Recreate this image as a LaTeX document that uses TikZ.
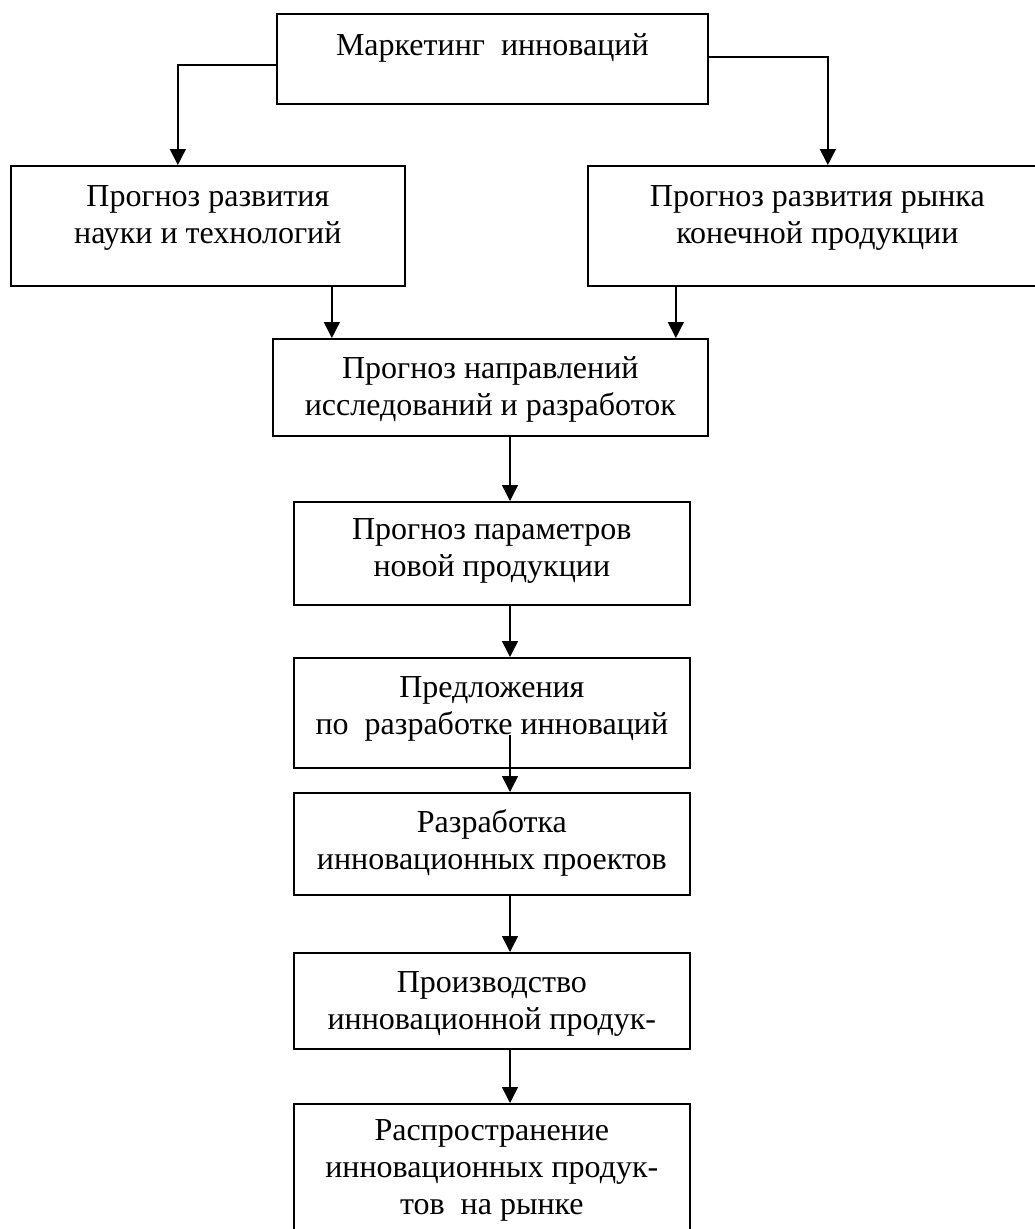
\documentclass[tikz,border=0pt]{standalone}
\usepackage{fontspec}
\setmainfont{Liberation Serif}
\usetikzlibrary{arrows.meta}
\newcommand{\bxt}[4]{\parbox[t][#2][t]{#1}{\centering\vspace*{#3}\strut #4\par}}
\begin{document}
\begin{tikzpicture}[x=1pt,y=-1pt,
  box/.style={draw,line width=1.7pt,inner sep=0pt,anchor=north west,font=\fontsize{32}{37}\selectfont},
  conn/.style={line width=1.5pt,-{Triangle[width=16pt,length=16pt]}}]
\useasboundingbox (0,0) rectangle (1035,1229);
\clip (0,0) rectangle (1035,1229);
\node[box] (T) at (276,13) {\bxt{431pt}{90pt}{16pt}{Маркетинг~~инноваций}};
\node[box] (L) at (10,165) {\bxt{394pt}{120pt}{15pt}{Прогноз развития\\науки и технологий}};
\node[box] (R) at (587,165) {\bxt{459pt}{120pt}{15pt}{Прогноз развития рынка\\конечной продукции}};
\node[box] (M) at (272,338) {\bxt{435pt}{97pt}{14pt}{Прогноз направлений\\исследований и разработок}};
\node[box] (B4) at (293,501) {\bxt{396pt}{103pt}{12pt}{Прогноз параметров\\новой продукции}};
\node[box] (B5) at (293,657) {\bxt{396pt}{110pt}{14pt}{Предложения\\по~~разработке инноваций}};
\node[box] (B6) at (293,792) {\bxt{396pt}{102pt}{14pt}{Разработка\\инновационных проектов}};
\node[box] (B7) at (293,952) {\bxt{396pt}{96pt}{14pt}{Производство\\инновационной продук-}};
\node[box] (B8) at (293,1103) {\bxt{396pt}{140pt}{11pt}{Распространение\\инновационных продук-\\тов~~на рынке}};
\coordinate (ax) at (510,0);
\coordinate (s5) at (510,735);
\draw[conn] ([yshift=-52pt]T.north west) -| ([xshift=-30pt]L.north);
\draw[conn] ([yshift=-44pt]T.north east) -| ([xshift=10.5pt]R.north);
\draw[conn] ([xshift=124pt]L.south) -- ([xshift=124pt]L.south |- M.north);
\draw[conn] ([xshift=-141.5pt]R.south) -- ([xshift=-141.5pt]R.south |- M.north);
\draw[conn] (M.south -| ax) -- (B4.north -| ax);
\draw[conn] (B4.south -| ax) -- (B5.north -| ax);
\draw[conn] (s5) -- (B6.north -| ax);
\draw[conn] (B6.south -| ax) -- (B7.north -| ax);
\draw[conn] (B7.south -| ax) -- (B8.north -| ax);
\end{tikzpicture}
\end{document}
